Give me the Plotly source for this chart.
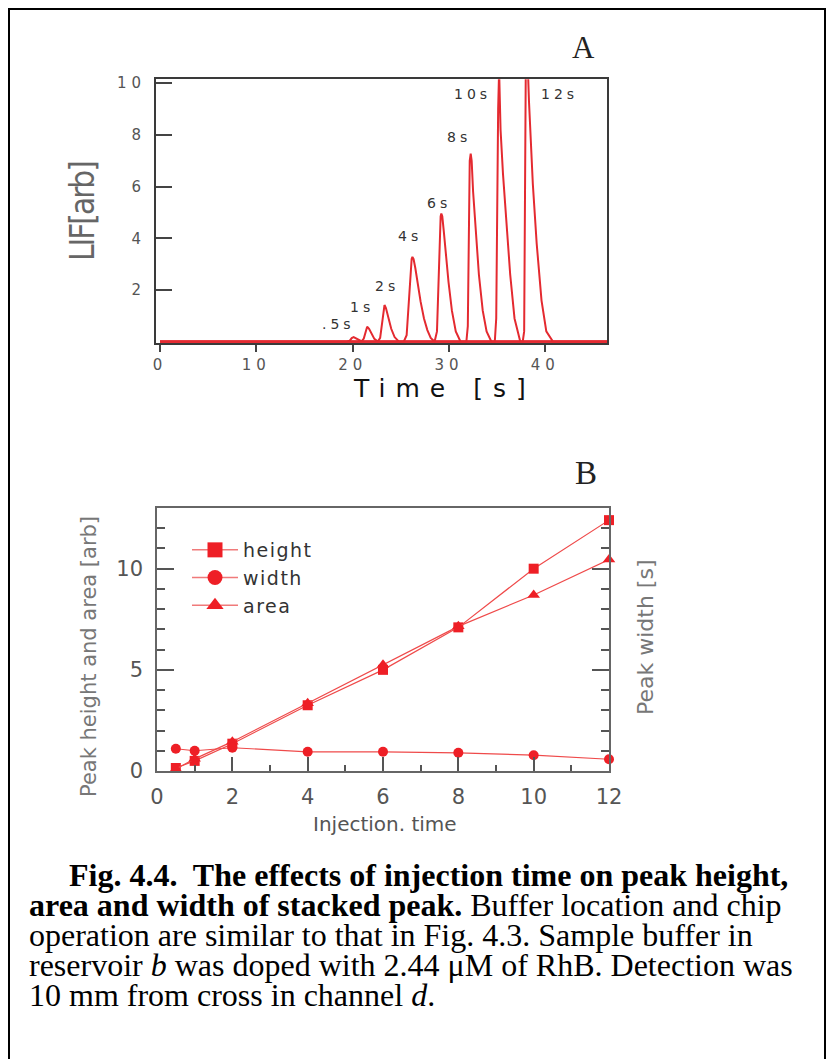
import plotly.graph_objects as go

# The page adds an 8 px body margin, so the figure is 832x1051 and all
# layout positions below are given in page pixels and converted.
OFF = 8
W, H = 840 - OFF, 1059 - OFF


def px(x):
    return (x - OFF) / W


def py(y):
    return 1 - (y - OFF) / H


# ---------------- Panel A : LIF traces (time [s], LIF [arb]) ----------------
run_labels = [".5s", "1s", "2s", "4s", "6s", "8s", "10s", "12s"]

t_05 = [0, 19.4, 19.7, 19.9, 20.1, 20.3, 20.6, 21.0, 46.5]
y_05 = [0, 0, 0.04, 0.14, 0.18, 0.14, 0.06, 0, 0]

t_1 = [0, 20.9, 21.15, 21.35, 21.5, 21.7, 21.95, 22.25, 22.65, 46.5]
y_1 = [0, 0, 0.12, 0.45, 0.58, 0.5, 0.3, 0.11, 0, 0]

t_2 = [0, 22.6, 22.85, 23.05, 23.2, 23.3, 23.45, 23.7, 24.0, 24.35, 24.8, 46.5]
y_2 = [0, 0, 0.15, 0.8, 1.3, 1.42, 1.3, 0.9, 0.5, 0.18, 0, 0]

t_4 = [0, 25.3, 25.6, 25.85, 26.0, 26.12, 26.2, 26.32, 26.5, 26.75, 27.05, 27.4, 27.75, 28.1, 28.5, 46.5]
y_4 = [0, 0, 0.25, 1.64, 2.8, 3.2, 3.28, 3.2, 2.85, 2.2, 1.55, 0.9, 0.45, 0.15, 0, 0]

t_6 = [0, 28.5, 28.75, 28.9, 29.05, 29.13, 29.2, 29.3, 29.45, 29.65, 29.95, 30.3, 30.7, 31.2, 46.5]
y_6 = [0, 0, 0.4, 2.5, 4.4, 4.85, 4.96, 4.85, 4.3, 3.4, 2.3, 1.2, 0.4, 0, 0]

t_8 = [0, 31.8, 31.95, 32.05, 32.15, 32.25, 32.35, 32.5, 32.75, 33.1, 33.5, 33.9, 34.4, 46.5]
y_8 = [0, 0, 0.6, 5.4, 7.0, 7.27, 7.0, 5.8, 4.3, 2.6, 1.2, 0.4, 0, 0]

t_10 = [0, 34.75, 34.9, 34.98, 35.1, 35.2, 35.35, 35.6, 35.95, 36.35, 36.8, 37.4, 46.5]
y_10 = [0, 0, 0.9, 5.3, 9.0, 10.5, 8.2, 6.5, 4.8, 2.6, 0.9, 0, 0]

t_12 = [0, 37.65, 37.8, 37.9, 38.0, 38.1, 38.3, 38.7, 39.1, 39.6, 40.1, 40.8, 46.5]
y_12 = [0, 0, 0.4, 6.0, 12.5, 11.5, 9.3, 6.1, 3.8, 1.6, 0.4, 0, 0]

runs_t = [t_05, t_1, t_2, t_4, t_6, t_8, t_10, t_12]
runs_y = [y_05, y_1, y_2, y_4, y_6, y_8, y_10, y_12]

# label anchor positions (data coordinates)
label_x = [18.5, 21.0, 23.6, 26.0, 29.0, 31.05, 32.4, 41.5]
label_y = [0.68, 1.34, 2.15, 4.09, 5.37, 7.92, 9.58, 9.58]

a_xticks = [0, 10, 20, 30, 40]
a_yticks = [2, 4, 6, 8, 10]

# ---------------- Panel B : peak parameters vs injection time ----------------
inj_time = [0.5, 1, 2, 4, 6, 8, 10, 12]
peak_height = [0.15, 0.5, 1.35, 3.25, 5.0, 7.1, 10.0, 12.4]
peak_width = [1.1, 1.0, 1.15, 0.95, 0.95, 0.9, 0.78, 0.58]
peak_area = [0.1, 0.6, 1.45, 3.35, 5.25, 7.15, 8.7, 10.45]

b_xticks = [0, 2, 4, 6, 8, 10, 12]
b_yticks = [0, 5, 10]

RED_A = "#e42a30"
RED_M = "#ee1f26"
RED_L = "#ef4a4a"

fig = go.Figure()

for t, y in zip(runs_t, runs_y):
    fig.add_trace(go.Scatter(x=t, y=y, mode="lines", xaxis="x", yaxis="y",
                             line=dict(color=RED_A, width=2),
                             showlegend=False, hoverinfo="skip"))


def spaced(s, ls):
    return f"<span style='letter-spacing:{ls}px'>{s}</span>"


series = [
    ("height", peak_height, "square", 10, "y2"),
    ("width", peak_width, "circle", 10, "y3"),
    ("area", peak_area, "triangle-up", 11, "y2"),
]
for name, vals, sym, size, yax in series:
    fig.add_trace(go.Scatter(x=inj_time, y=vals, mode="lines+markers",
                             xaxis="x2", yaxis=yax, name=name,
                             line=dict(color=RED_L, width=1.2),
                             marker=dict(symbol=sym, size=size, color=RED_M),
                             cliponaxis=False, showlegend=False))
# legend entries (larger symbols, as in the original legend)
for name, vals, sym, size, yax in series:
    fig.add_trace(go.Scatter(x=[None], y=[None], mode="lines+markers",
                             xaxis="x2", yaxis="y2", name=spaced(name, 1.5),
                             line=dict(color="#f07a7a", width=1.5),
                             marker=dict(symbol=sym, size=15, color=RED_M),
                             showlegend=True))


def note(x, y, text, size, color, family="DejaVu Sans", angle=0, xanchor="center"):
    return dict(x=px(x), y=py(y), xref="paper", yref="paper", text=text,
                textangle=angle, showarrow=False, xanchor=xanchor, yanchor="middle",
                font=dict(family=family, size=size, color=color))


annotations = []
for lab, lx, ly in zip(run_labels, label_x, label_y):
    annotations.append(dict(x=lx, y=ly, xref="x", yref="y", text=spaced(lab, 4),
                            showarrow=False, xanchor="center", yanchor="middle",
                            font=dict(family="DejaVu Sans", size=14, color="#333")))

annotations += [
    note(583, 47, "A", 31, "#222", family="Liberation Serif"),
    note(82, 212, spaced("LIF[arb]", -2), 33, "#666",
         family="Liberation Sans Narrow, DejaVu Sans Condensed, Liberation Sans, sans-serif",
         angle=-90),
    note(444, 388, spaced("Time [s]", 10), 25, "#111"),
    note(586, 473, "B", 33, "#222", family="Liberation Serif"),
    note(89, 657, "Peak height and area [arb]", 21, "#777", angle=-90),
    note(645, 637, "Peak width [s]", 22, "#777", angle=-90),
    note(385, 824, "Injection. time", 20, "#555"),
]

caption = [
    (67, 875, "<b>Fig. 4.4.\u00a0 The effects of injection time on peak height,</b>"),
    (27, 905, "<b>area and width of stacked peak.</b> Buffer location and chip"),
    (27, 935, "operation are similar to that in Fig. 4.3. Sample buffer in"),
    (27, 965, "reservoir <i>b</i> was doped with 2.44 \u03bcM of RhB. Detection was"),
    (27, 995, "10 mm from cross in channel <i>d</i>."),
]
for cx, cy, txt in caption:
    annotations.append(note(cx, cy, txt, 32, "#000",
                            family="Liberation Serif, Times New Roman, serif",
                            xanchor="left"))

shapes = [dict(type="rect", xref="paper", yref="paper", x0=px(9), x1=px(825),
               y0=-0.02, y1=py(9), line=dict(color="#000", width=2),
               fillcolor="rgba(0,0,0,0)")]

axis_common = dict(showgrid=False, zeroline=False, showline=True)

fig.update_layout(
    width=W, height=H, autosize=False, template="none",
    margin=dict(l=0, r=0, t=0, b=0),
    paper_bgcolor="white", plot_bgcolor="white",
    xaxis=dict(domain=[px(156), px(607)], range=[-0.42, 46.4], anchor="y",
               tickmode="array", tickvals=a_xticks,
               ticktext=[spaced(str(v), 5) for v in a_xticks],
               ticks="outside", ticklen=7, tickwidth=2, tickcolor="#444",
               linecolor="#3a3a3a", linewidth=2, mirror=True,
               tickfont=dict(family="DejaVu Sans", size=15, color="#555"),
               **axis_common),
    yaxis=dict(domain=[py(342.5), py(79.3)], range=[-0.03, 10.15], anchor="x",
               tickmode="array", tickvals=a_yticks,
               ticktext=[spaced(str(v), 5) for v in a_yticks],
               ticks="inside", ticklen=16, tickwidth=2, tickcolor="#444",
               linecolor="#3a3a3a", linewidth=2, mirror=True,
               ticklabelstandoff=5,
               tickfont=dict(family="DejaVu Sans", size=15, color="#555"),
               **axis_common),
    xaxis2=dict(domain=[px(157), px(609)], range=[0, 12], anchor="y2",
                tickmode="array", tickvals=b_xticks,
                ticks="inside", ticklen=14, tickwidth=1.5, tickcolor="#555",
                minor=dict(dtick=1, ticks="inside", ticklen=6, tickwidth=1.5, tickcolor="#555"),
                linecolor="#666", linewidth=1.5, mirror=True,
                ticklabelstandoff=6,
                tickfont=dict(family="DejaVu Sans", size=21, color="#555"),
                **axis_common),
    yaxis2=dict(domain=[py(771), py(508)], range=[0, 13], anchor="x2",
                tickmode="array", tickvals=b_yticks,
                ticks="inside", ticklen=17, tickwidth=1.5, tickcolor="#555",
                minor=dict(dtick=1, ticks="inside", ticklen=8, tickwidth=1.5, tickcolor="#555"),
                linecolor="#666", linewidth=1.5, mirror=True,
                ticklabelstandoff=8,
                tickfont=dict(family="DejaVu Sans", size=21, color="#555"),
                **axis_common),
    yaxis3=dict(overlaying="y2", anchor="x2", side="right", range=[0, 13],
                tickmode="array", tickvals=b_yticks, showticklabels=False,
                ticks="inside", ticklen=17, tickwidth=1.5, tickcolor="#555",
                minor=dict(dtick=1, ticks="inside", ticklen=8, tickwidth=1.5, tickcolor="#555"),
                showgrid=False, zeroline=False, showline=False),
    legend=dict(x=px(187), y=py(531), xanchor="left", yanchor="top",
                bgcolor="rgba(0,0,0,0)", borderwidth=0, tracegroupgap=0,
                itemwidth=46,
                font=dict(family="DejaVu Sans", size=19, color="#333")),
    annotations=annotations,
    shapes=shapes,
)

fig.write_html("out.html")
